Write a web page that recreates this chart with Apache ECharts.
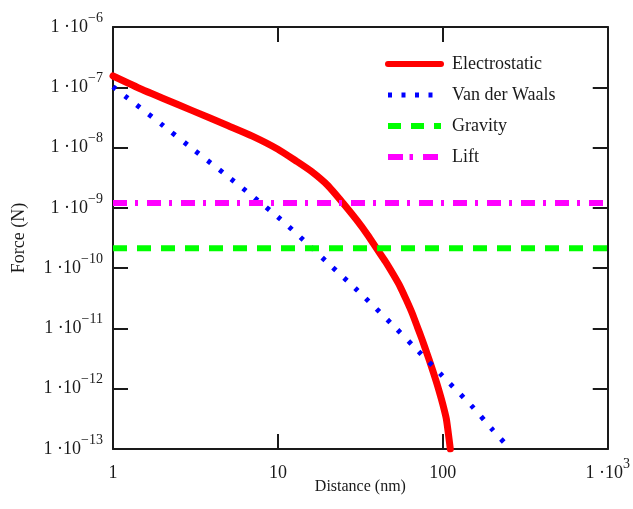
<!DOCTYPE html>
<html>
<head>
<meta charset="utf-8">
<script src="https://cdn.jsdelivr.net/npm/echarts@6/dist/echarts.min.js"></script>
<style>
  html, body { margin: 0; padding: 0; background: #fff; }
  #chart { width: 633px; height: 509px; }
</style>
</head>
<body>
<div id="chart"></div>
<script>
// Distance (nm) and force (N) samples for each interaction
const distElectro = [1, 1.5, 2, 3, 5, 7, 10, 13, 16, 20, 25, 30, 35, 40, 45, 50, 55, 60, 65, 70, 75, 80, 85, 90, 95, 100, 105, 111];
const forceElectro = [1.54e-7, 9.2e-8, 6.6e-8, 4.14e-8, 2.3e-8, 1.55e-8, 9.4e-9, 5.9e-9, 4.0e-9, 2.37e-9, 1.17e-9, 6.3e-10, 3.56e-10, 2.05e-10, 1.27e-10, 7.9e-11, 5.0e-11, 3.0e-11, 1.82e-11, 1.07e-11, 6.46e-12, 3.9e-12, 2.4e-12, 1.48e-12, 9.1e-13, 5.5e-13, 3.16e-13, 1.0e-13];

const distVdw = [1, 2, 3, 5, 10, 15, 20, 30, 50, 70, 100, 150, 200, 256];
const forceVdw = [1.02e-7, 2.35e-8, 9.75e-9, 3.28e-9, 7.05e-10, 2.58e-10, 1.23e-10, 4.4e-11, 1.12e-11, 4.37e-12, 1.6e-12, 5.14e-13, 2.09e-13, 1.0e-13];

const distSpan = [1, 1000];
const forceGravity = [2.14e-10, 2.14e-10];
const forceLift = [1.2e-9, 1.2e-9];

const seriesNames = ['Electrostatic', 'Van der Waals', 'Gravity', 'Lift'];

// Tick labels: decade exponents of each axis
const yTickExponents = [-13, -12, -11, -10, -9, -8, -7, -6];
const xTickLabels = { 1: '1', 10: '10', 100: '100', 1000: '1 ·10|3' };

const FONT = '"Liberation Serif", "DejaVu Serif", serif';
const INK = '#1a1a1a';

const pairs = (xs, ys) => xs.map((x, i) => [x, ys[i]]);

const richLabel = {
  m: { fontSize: 18, fontFamily: FONT, color: INK, lineHeight: 32, verticalAlign: 'middle' },
  s: { fontSize: 14, fontFamily: FONT, color: INK, lineHeight: 14, verticalAlign: 'top' }
};

function yLabel(v) {
  const e = Math.round(Math.log10(v));
  if (yTickExponents.indexOf(e) < 0) return '';
  return '{m|1 ·10}{s|\u2212' + (-e) + '}';
}
function xLabel(v) {
  const t = xTickLabels[Math.round(v)];
  if (!t) return '';
  const parts = t.split('|');
  return parts.length > 1 ? '{m|' + parts[0] + '}{s|' + parts[1] + '}' : '{m|' + parts[0] + '}';
}

const axisLine = { show: true, lineStyle: { color: INK, width: 2 } };
const axisTick = { show: true, inside: true, length: 15, lineStyle: { color: INK, width: 2 } };
const hiddenSymbol = { opacity: 0, borderWidth: 0 };

const chart = echarts.init(document.getElementById('chart'), null, { renderer: 'canvas' });

chart.setOption({
  animation: false,
  backgroundColor: '#fff',
  grid: { left: 113, right: 23, top: 27, bottom: 60, containLabel: false },
  legend: {
    orient: 'vertical',
    left: 380,
    top: 50,
    itemWidth: 53,
    itemHeight: 18,
    itemGap: 13,
    selectedMode: false,
    textStyle: { fontFamily: FONT, fontSize: 18, color: INK, padding: [0, 0, 0, 6] },
    data: [
      { name: seriesNames[0], itemStyle: hiddenSymbol, lineStyle: { width: 6, type: 'solid', cap: 'round', color: '#ff0000' } },
      { name: seriesNames[1], itemStyle: hiddenSymbol, lineStyle: { width: 5, type: [4, 9.5], color: '#0000ff' } },
      { name: seriesNames[2], itemStyle: hiddenSymbol, lineStyle: { width: 6, type: [13, 10], color: '#00ff00' } },
      { name: seriesNames[3], itemStyle: hiddenSymbol, lineStyle: { width: 6, type: [15, 6.5, 3.5, 10], color: '#ff00ff' } }
    ]
  },
  xAxis: [
    {
      type: 'log', logBase: 10, min: 1, max: 1000, interval: 1,
      name: 'Distance (nm)', nameLocation: 'middle', nameGap: 30, nameMoveOverlap: false,
      nameTextStyle: { fontFamily: FONT, fontSize: 16, color: INK },
      axisLine: axisLine, axisTick: axisTick,
      splitLine: { show: false }, minorTick: { show: false },
      axisLabel: { show: true, margin: 8, formatter: xLabel, rich: richLabel, showMinLabel: true, showMaxLabel: true, hideOverlap: false }
    },
    {
      type: 'log', logBase: 10, min: 1, max: 1000, interval: 1, position: 'top',
      axisLine: axisLine, axisTick: axisTick,
      splitLine: { show: false }, axisLabel: { show: false }
    }
  ],
  yAxis: [
    {
      type: 'log', logBase: 10, min: 1e-13, max: 1e-6, interval: 1,
      name: 'Force (N)', nameLocation: 'middle', nameGap: 85, nameRotate: 90, nameMoveOverlap: false,
      nameTextStyle: { fontFamily: FONT, fontSize: 18, color: INK },
      axisLine: axisLine, axisTick: axisTick,
      splitLine: { show: false }, minorTick: { show: false },
      axisLabel: { show: true, margin: 10, formatter: yLabel, rich: richLabel, showMinLabel: true, showMaxLabel: true, hideOverlap: false }
    },
    {
      type: 'log', logBase: 10, min: 1e-13, max: 1e-6, interval: 1, position: 'right',
      axisLine: axisLine, axisTick: axisTick,
      splitLine: { show: false }, axisLabel: { show: false }
    }
  ],
  series: [
    {
      name: seriesNames[0], type: 'line', data: pairs(distElectro, forceElectro),
      showSymbol: false, symbol: 'none', smooth: 0.2,
      lineStyle: { color: '#ff0000', width: 7, cap: 'round' },
      itemStyle: { color: '#ff0000' }, z: 2
    },
    {
      name: seriesNames[1], type: 'line', data: pairs(distVdw, forceVdw),
      showSymbol: false, symbol: 'none', smooth: 0.3,
      lineStyle: { color: '#0000ff', width: 5, type: [4, 11] },
      itemStyle: { color: '#0000ff' }, z: 3
    },
    {
      name: seriesNames[2], type: 'line', data: pairs(distSpan, forceGravity),
      showSymbol: false, symbol: 'none',
      lineStyle: { color: '#00ff00', width: 6, type: [14, 10] },
      itemStyle: { color: '#00ff00' }, z: 4
    },
    {
      name: seriesNames[3], type: 'line', data: pairs(distSpan, forceLift),
      showSymbol: false, symbol: 'none',
      lineStyle: { color: '#ff00ff', width: 6, type: [14, 8, 3, 9] },
      itemStyle: { color: '#ff00ff' }, z: 4
    }
  ]
});
</script>
</body>
</html>
